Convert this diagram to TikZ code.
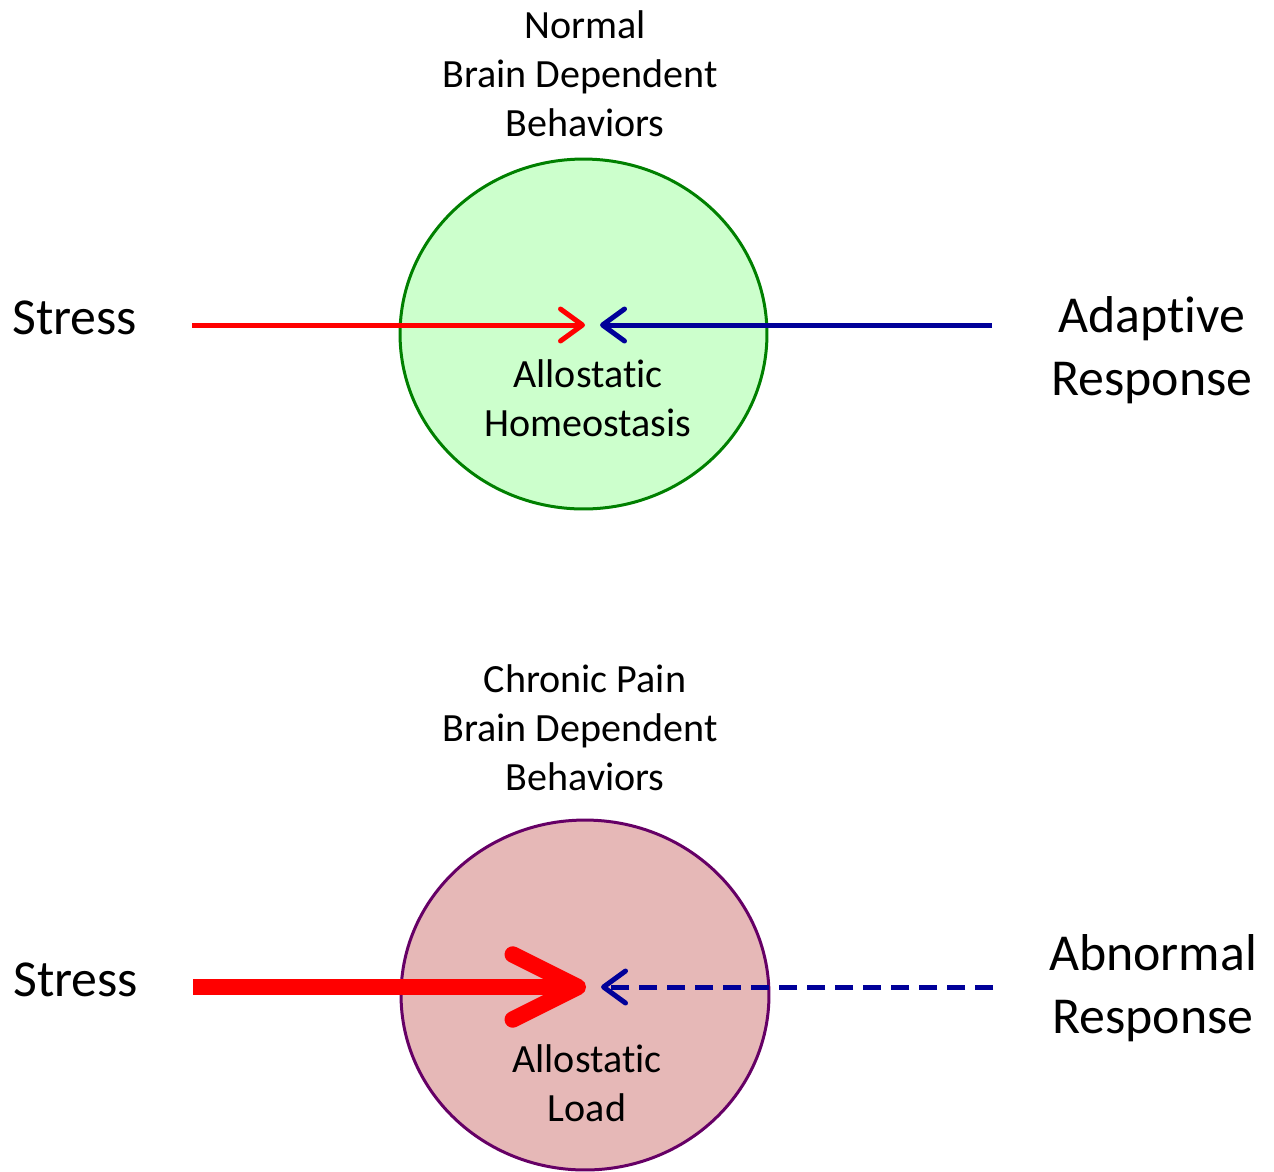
\documentclass[tikz,border=0pt]{standalone}
\usepackage{fontspec}
\setmainfont{Carlito}[Ligatures=NoCommon]
\usetikzlibrary{arrows.meta,shapes.geometric}
\definecolor{gline}{HTML}{008000}
\definecolor{gfill}{HTML}{CCFFCC}
\definecolor{pline}{HTML}{660066}
\definecolor{pfill}{HTML}{E6B8B7}
\definecolor{dblue}{HTML}{000099}
\definecolor{bred}{HTML}{FF0000}
\tikzset{
  midtext/.style={align=center, inner sep=0pt, font=\fontsize{22.8}{27.9}\selectfont},
  bigtext/.style={align=center, inner sep=0pt, font=\fontsize{29.5}{35.9}\selectfont},
  thinarrow/.style={line width=0.1cm, -{Straight Barb[length=0.44cm, width=0.64cm, round]}},
  thickarrow/.style={line width=0.33cm, -{Straight Barb[length=1.3cm, width=1.3cm, round]}},
  circ/.style={ellipse, line width=0.06cm, minimum height=7.0cm, inner sep=0pt},
}
\begin{document}
\begin{tikzpicture}[x=0.02cm, y=-0.02cm]
\useasboundingbox (0,0) rectangle (1274,1171);
% top panel
\node[circ, draw=gline, fill=gfill, minimum width=7.34cm] (c1) at (583.5,334) {};
\node[midtext] (t1) at (585,74) {Normal\\Brain Dependent\kern0.2cm\\Behaviors};
\node[midtext] (h1) at (588,398) {Allostatic\\Homeostasis};
\node[bigtext, anchor=west] (s1) at (12,318) {Stress};
\node[bigtext] (a1) at (1152,350) {Adaptive\\Response};
\coordinate (s1e) at (192,325);
\coordinate (r1e) at (992,325);
\coordinate (tip1) at (585,325);
\coordinate (tip2) at (600,325);
\draw[thinarrow, bred] (s1e) -- (tip1);
\draw[thinarrow, dblue] (r1e) -- (tip2);
% bottom panel
\node[circ, draw=pline, fill=pfill, minimum width=7.36cm] (c2) at (585,995) {};
\node[midtext] (t2) at (585,728) {Chronic Pain\\Brain Dependent\kern0.2cm\\Behaviors};
\node[midtext] (h2) at (587,1083) {Allostatic\\Load};
\node[bigtext, anchor=west] (s2) at (13,980) {Stress};
\node[bigtext] (a2) at (1153,988) {Abnormal\\Response};
\coordinate (s2e) at (193,987);
\coordinate (r2e) at (993,987);
\coordinate (tip3) at (586,987);
\coordinate (tip4) at (601,987);
\draw[thickarrow, bred] (s2e) -- (tip3);
\draw[thinarrow, dblue, dash pattern=on 0.36cm off 0.2cm] (r2e) -- (tip4);
\end{tikzpicture}
\end{document}
